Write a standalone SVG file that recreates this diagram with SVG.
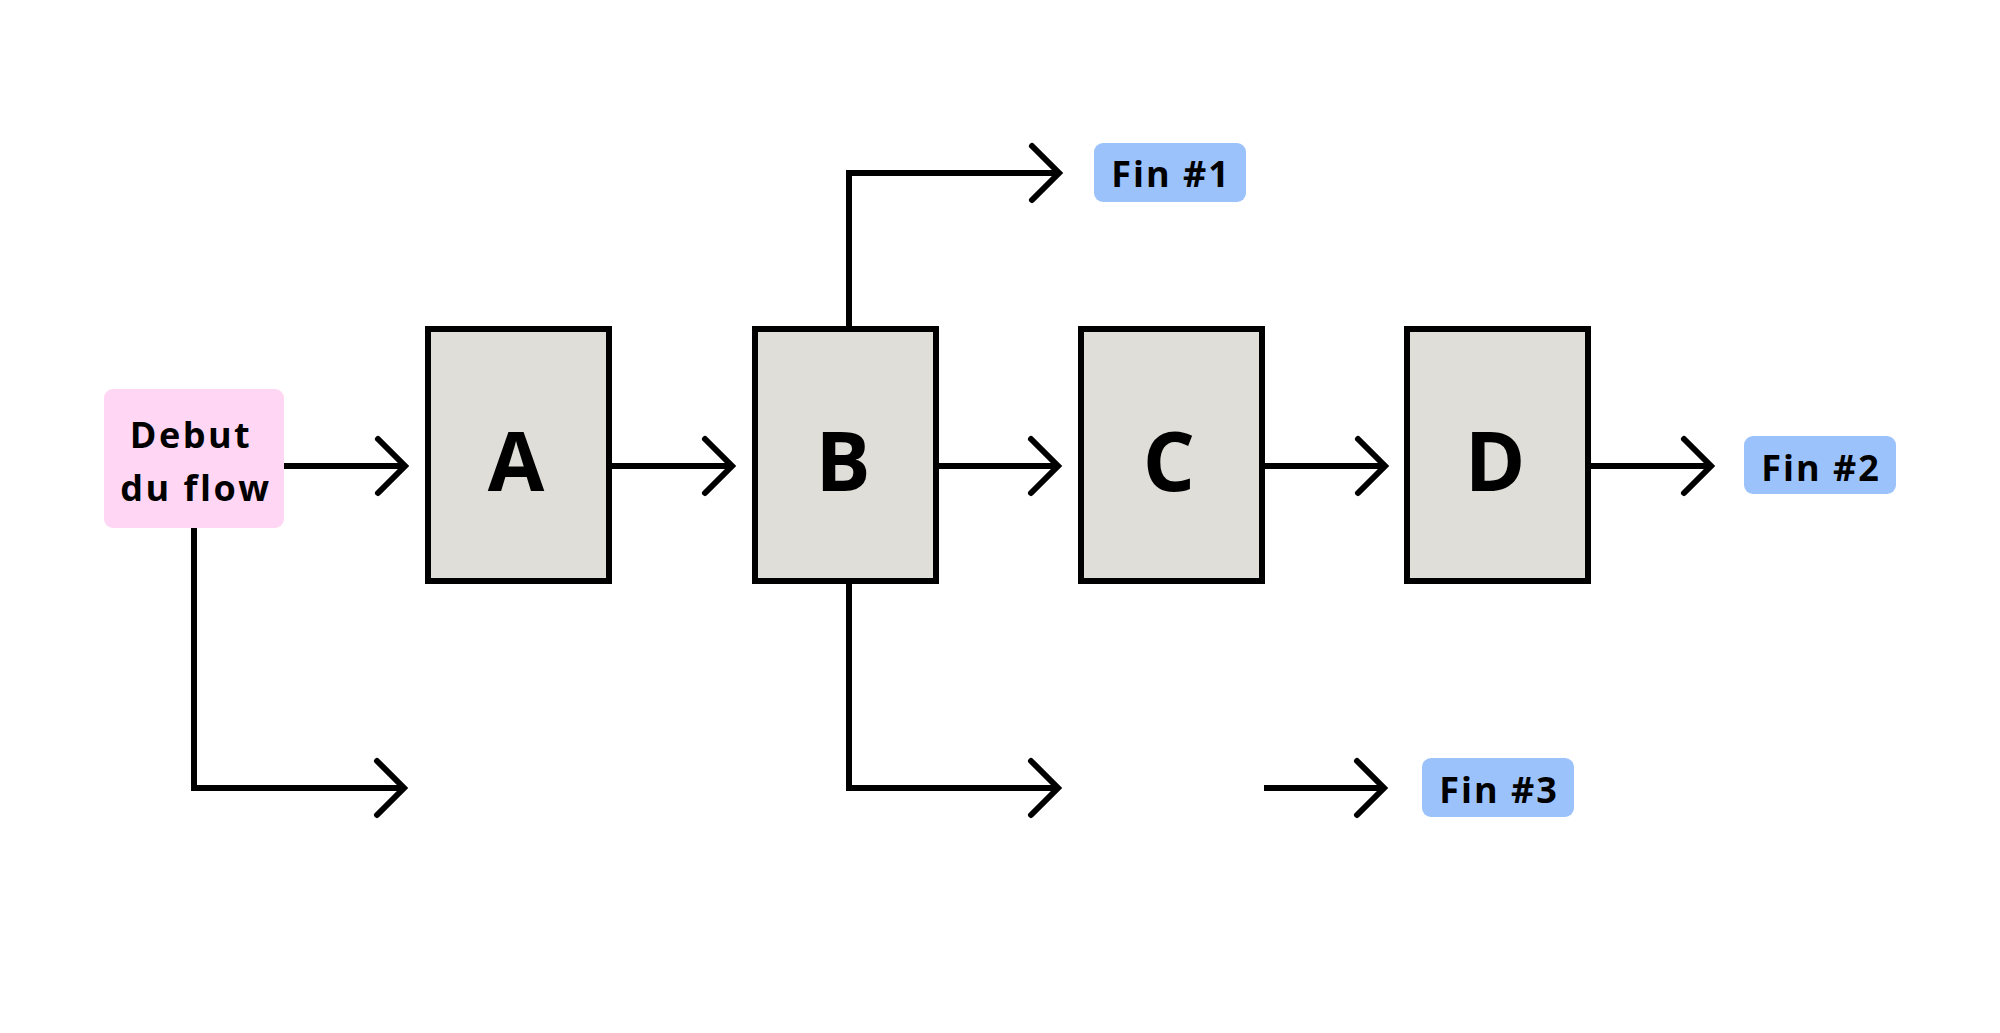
<svg xmlns="http://www.w3.org/2000/svg" width="2000" height="1033" viewBox="0 0 2000 1033">
<style>
.box{fill:#dfded9;stroke:#000;stroke-width:6}
.start{fill:#ffd6f3}
.end{fill:#9cc2fb}
.lbl{font-family:"Open Sans","Noto Sans","Liberation Sans",sans-serif;font-weight:700;fill:#000;text-anchor:middle}
.big{font-size:82px}
.mid{font-size:36px;letter-spacing:2px}
.sm{font-size:36px;letter-spacing:2.5px}
.conn{fill:none;stroke:#000;stroke-width:6;stroke-linejoin:miter}
</style>
<defs>
<marker id="chev" markerUnits="userSpaceOnUse" markerWidth="50" markerHeight="80" viewBox="-40 -40 50 80" refX="0" refY="0" orient="auto" overflow="visible">
<path d="M-27,-27 L0,0 L-27,27" fill="none" stroke="#000" stroke-width="6" stroke-linecap="round" stroke-linejoin="miter"/>
</marker>
</defs>
<rect width="2000" height="1033" fill="#fff"/>
<g id="connectors">
<path class="conn" d="M283,466 H405" marker-end="url(#chev)"/>
<path class="conn" d="M194,528 V788 H404" marker-end="url(#chev)"/>
<path class="conn" d="M612,466 H732" marker-end="url(#chev)"/>
<path class="conn" d="M939,466 H1058" marker-end="url(#chev)"/>
<path class="conn" d="M1265,466 H1385" marker-end="url(#chev)"/>
<path class="conn" d="M1591,466 H1711" marker-end="url(#chev)"/>
<path class="conn" d="M849,326 V173 H1059" marker-end="url(#chev)"/>
<path class="conn" d="M849,584 V788 H1058" marker-end="url(#chev)"/>
<path class="conn" d="M1264,788 H1384" marker-end="url(#chev)"/>
</g>
<g id="start">
<rect class="start" x="104" y="389" width="180" height="139" rx="9"/>
<text class="lbl sm" x="191" y="448">Debut</text>
<text class="lbl sm" x="196" y="501">du flow</text>
</g>
<g id="A">
<rect class="box" x="428" y="329" width="181" height="252"/>
<text class="lbl big" x="516" y="491">A</text>
</g>
<g id="B">
<rect class="box" x="755" y="329" width="181" height="252"/>
<text class="lbl big" x="843" y="491">B</text>
</g>
<g id="C">
<rect class="box" x="1081" y="329" width="181" height="252"/>
<text class="lbl big" x="1169" y="491">C</text>
</g>
<g id="D">
<rect class="box" x="1407" y="329" width="181" height="252"/>
<text class="lbl big" x="1495" y="491">D</text>
</g>
<g id="fin1">
<rect class="end" x="1094" y="143" width="152" height="59" rx="9"/>
<text class="lbl mid" x="1171" y="187">Fin #1</text>
</g>
<g id="fin2">
<rect class="end" x="1744" y="436" width="152" height="58" rx="9"/>
<text class="lbl mid" x="1821" y="481">Fin #2</text>
</g>
<g id="fin3">
<rect class="end" x="1422" y="758" width="152" height="59" rx="9"/>
<text class="lbl mid" x="1499" y="803">Fin #3</text>
</g>
</svg>
